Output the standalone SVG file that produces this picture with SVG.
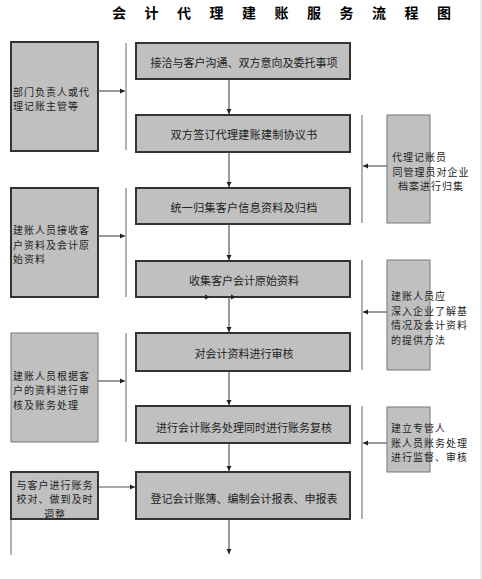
<svg xmlns="http://www.w3.org/2000/svg" width="482" height="579" viewBox="0 0 482 579">
<style>
text{font-family:"Noto Sans CJK SC","Noto Sans",sans-serif;font-size:11px;fill:#222;dominant-baseline:central}
.ml{font-size:10px;letter-spacing:1px}
.title{font-size:14px;font-weight:bold;fill:#000}
.main{fill:#c0c0c0;stroke:#333;stroke-width:2}
.side{fill:#c0c0c0;stroke:#333;stroke-width:2}
.side2{fill:#c0c0c0;stroke:#777;stroke-width:1}
.right{fill:#c0c0c0;stroke:#777;stroke-width:1}
.c{text-anchor:middle}
.conn line{stroke:#555;stroke-width:1.2}
.bar{stroke:#999;stroke-width:1.5}
</style>
<defs>
<marker id="ah" markerWidth="6" markerHeight="6" refX="5" refY="3" orient="auto" markerUnits="userSpaceOnUse">
<path d="M0,0.5 L5,3 L0,5.5 Z" fill="#222"/>
</marker>
</defs>
<rect width="482" height="579" fill="#fff"/>
<line x1="481" y1="0" x2="481" y2="579" stroke="#ddd" stroke-width="1"/>
<text class="title" x="112 144.5 177 209.5 242 274.5 307 339.5 372 404.5 437" y="12">会计代理建账服务流程图</text>

<g id="bars">
<line class="bar" x1="126" y1="43" x2="126" y2="150"/>
<line class="bar" x1="126" y1="188" x2="126" y2="297"/>
<line class="bar" x1="126" y1="333" x2="126" y2="442"/>
<line class="bar" x1="362" y1="115" x2="362" y2="223"/>
<line class="bar" x1="362" y1="260" x2="362" y2="370"/>
<line class="bar" x1="362" y1="406" x2="362" y2="519"/>
<line class="bar" x1="11" y1="519" x2="11" y2="555" stroke-width="1"/>
</g>

<g id="m1"><rect class="main" x="136" y="43" width="214" height="36"/><text class="c" x="244" y="62">接洽与客户沟通、双方意向及委托事项</text></g>
<g id="m2"><rect class="main" x="136" y="115" width="214" height="37"/><text class="c" x="244" y="134" letter-spacing="0.3">双方签订代理建账建制协议书</text></g>
<g id="m3"><rect class="main" x="136" y="188" width="214" height="36"/><text class="c" x="244" y="207" letter-spacing="0.3">统一归集客户信息资料及归档</text></g>
<g id="m4"><rect class="main" x="136" y="261" width="214" height="36"/><text class="c" x="244" y="280">收集客户会计原始资料</text></g>
<g id="m5"><rect class="main" x="136" y="333" width="214" height="38"/><text class="c" x="244" y="353">对会计资料进行审核</text></g>
<g id="m6"><rect class="main" x="136" y="406" width="214" height="37"/><text class="c" x="244" y="427">进行会计账务处理同时进行账务复核</text></g>
<g id="m7"><rect class="main" x="136" y="472" width="214" height="47"/><text class="c" x="244" y="498">登记会计账簿、编制会计报表、申报表</text></g>

<g id="l1"><rect class="side" x="11" y="42" width="87" height="109"/><text class="ml" x="13" y="91">部门负责人或代</text><text class="ml" x="13" y="105.5">理记账主管等</text></g>
<g id="l2"><rect class="side" x="11" y="188" width="87" height="109" stroke-width="1.5"/><text class="ml" x="13" y="229.5">建账人员接收客</text><text class="ml" x="13" y="244">户资料及会计原</text><text class="ml" x="13" y="258.5">始资料</text></g>
<g id="l3"><rect class="side2" x="11" y="333" width="87" height="109"/><text class="ml" x="13" y="375">建账人员根据客</text><text class="ml" x="13" y="389.5">户的资料进行审</text><text class="ml" x="13" y="404">核及账务处理</text></g>
<g id="l4"><rect class="side" x="11" y="472" width="87" height="47"/><text class="ml c" x="55" y="484">与客户进行账务</text><text class="ml c" x="55" y="498.5">校对、做到及时</text><text class="ml c" x="55" y="513">调整</text></g>

<g id="r1"><rect class="right" x="387" y="115" width="43" height="108"/><text class="ml" x="392" y="156.5">代理记账员</text><text class="ml c" x="431" y="171">同管理员对企业</text><text class="ml c" x="431" y="185.5">档案进行归集</text></g>
<g id="r2"><rect class="right" x="387" y="260" width="43" height="110"/><text class="ml" x="391" y="295.5">建账人员应</text><text class="ml" x="391" y="310">深入企业了解基</text><text class="ml" x="391" y="324.5">情况及会计资料</text><text class="ml" x="391" y="339">的提供方法</text></g>
<g id="r3"><rect class="right" x="387" y="407" width="43" height="65"/><text class="ml" x="391" y="427.5">建立专管人</text><text class="ml" x="391" y="442">账人员账务处理</text><text class="ml" x="391" y="456.5">进行监督、审核</text></g>

<g id="connectors" class="conn">
<line x1="229" y1="79" x2="229" y2="114" marker-end="url(#ah)"/>
<line x1="229" y1="152" x2="229" y2="187" marker-end="url(#ah)"/>
<line x1="229" y1="224" x2="229" y2="260" marker-end="url(#ah)"/>
<line x1="229" y1="297" x2="229" y2="332" marker-end="url(#ah)"/>
<line x1="229" y1="371" x2="229" y2="405" marker-end="url(#ah)"/>
<line x1="229" y1="443" x2="229" y2="471" marker-end="url(#ah)"/>
<line x1="229" y1="519" x2="229" y2="554" marker-end="url(#ah)"/>
<line x1="98" y1="91" x2="125" y2="91" marker-end="url(#ah)"/>
<line x1="98" y1="236" x2="125" y2="236" marker-end="url(#ah)"/>
<line x1="98" y1="381" x2="125" y2="381" marker-end="url(#ah)"/>
<line x1="98" y1="487" x2="135" y2="487" marker-end="url(#ah)"/>
<line x1="387" y1="166" x2="363" y2="166" marker-end="url(#ah)"/>
<line x1="387" y1="312" x2="363" y2="312" marker-end="url(#ah)"/>
<line x1="387" y1="443" x2="363" y2="443" marker-end="url(#ah)"/>
<path d="M205,294.5 L210,297 L205,299.5 Z M231,294.5 L236,297 L231,299.5 Z" fill="#222"/>
</g>
</svg>
